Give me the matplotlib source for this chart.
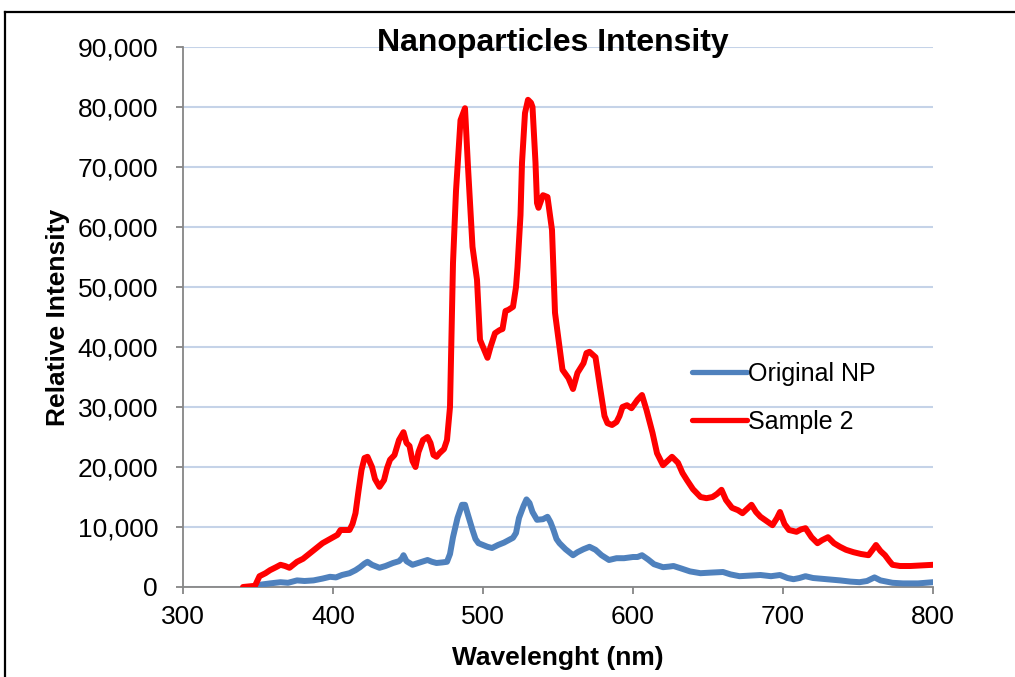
import matplotlib
matplotlib.use('Agg')
import matplotlib.pyplot as plt
from matplotlib.ticker import FuncFormatter, MultipleLocator
from matplotlib.lines import Line2D

plt.rcParams['font.family'] = ['Liberation Sans', 'DejaVu Sans']

# Sample 2 (red)
red_nm = [340, 348, 351, 355, 358, 362, 365, 368, 371, 374, 376, 380, 385, 389, 393, 398,
          403, 405, 411, 413, 415, 417, 419, 421, 423, 426, 428, 431, 434, 436, 438, 441,
          444, 447, 449, 451, 453, 455, 457, 460, 463, 465, 467, 469, 471, 474, 476, 478,
          480, 482, 485, 488, 490, 493, 495, 496, 498, 500, 503, 505, 508, 511, 513, 515,
          517, 520, 522, 523, 525, 526, 528, 530, 532, 533, 535, 536, 537, 540, 543, 546,
          548, 551, 553, 555, 557, 560, 563, 567, 569, 571, 575, 578, 581, 583, 586, 589,
          591, 593, 596, 599, 601, 603, 606, 609, 613, 616, 620, 623, 626, 630, 633, 636,
          640, 645, 649, 653, 656, 659, 662, 666, 670, 673, 676, 679, 682, 685, 689, 693,
          696, 698, 701, 704, 709, 712, 715, 719, 723, 726, 730, 734, 738, 742, 747, 752,
          757, 760, 762, 765, 768, 771, 773, 778, 785, 792, 800]
red_val = [0, 200, 1800, 2300, 2800, 3300, 3700, 3500, 3200, 3800, 4200, 4700, 5700, 6500, 7300, 8000,
           8700, 9500, 9500, 10500, 12300, 16000, 19500, 21500, 21700, 20000, 18000, 16700, 17800, 19800, 21200, 22000,
           24500, 25800, 24000, 23500, 21000, 20000, 22500, 24500, 25000, 24000, 22000, 21700, 22300, 23000, 24500, 30000,
           54000, 66000, 77800, 79800, 70000, 56700, 53000, 51200, 41200, 40000, 38200, 40000, 42300, 42800, 43000, 46000,
           46200, 46700, 50000, 53300, 62000, 70700, 79000, 81200, 80700, 80000, 70700, 64000, 63200, 65300, 65000, 59500,
           45700, 40000, 36200, 35500, 34800, 33000, 35700, 37300, 39000, 39200, 38300, 33300, 28500, 27300, 27000, 27500,
           28500, 30000, 30300, 29800, 30500, 31200, 32000, 29500, 25700, 22300, 20300, 21000, 21700, 20700, 19000, 17800,
           16300, 15000, 14800, 15000, 15500, 16200, 14500, 13200, 12800, 12300, 13000, 13700, 12500, 11700, 11000, 10300,
           11500, 12500, 10500, 9500, 9200, 9600, 9800, 8300, 7300, 7800, 8300, 7300, 6700, 6200, 5800, 5500,
           5300, 6300, 7000, 6000, 5300, 4300, 3700, 3500, 3500, 3600, 3700]

# Original NP (blue)
blue_nm = [350, 352, 358, 365, 370, 376, 381, 387, 393, 398, 402, 406, 411, 415, 418, 421,
           423, 426, 431, 435, 440, 444, 446, 447, 449, 453, 458, 463, 466, 469, 473, 476,
           478, 480, 483, 486, 488, 490, 493, 495, 497, 500, 503, 506, 510, 514, 517, 520,
           522, 524, 527, 529, 531, 533, 536, 540, 543, 545, 547, 549, 551, 555, 560, 563,
           567, 571, 575, 579, 584, 589, 594, 600, 603, 606, 610, 614, 620, 624, 627, 632,
           638, 645, 652, 660, 665, 671, 678, 685, 692, 698, 703, 707, 711, 715, 720, 729,
           738, 745, 751, 756, 761, 765, 773, 780, 790, 800]
blue_val = [0, 400, 600, 800, 700, 1100, 1000, 1100, 1400, 1700, 1600, 2000, 2300, 2800, 3300, 3900,
            4200, 3700, 3200, 3500, 4000, 4300, 4800, 5300, 4300, 3700, 4100, 4500, 4200, 4000, 4100, 4200,
            5500, 8300, 11500, 13700, 13700, 12000, 9500, 8000, 7300, 7000, 6700, 6500, 7000, 7400, 7800, 8200,
            9000, 11500, 13500, 14600, 14000, 12500, 11200, 11300, 11700, 10800, 9500, 8000, 7300, 6300, 5300, 5800,
            6300, 6700, 6200, 5300, 4500, 4800, 4800, 5000, 5000, 5300, 4600, 3800, 3300, 3400, 3500, 3100,
            2600, 2300, 2400, 2500, 2100, 1800, 1900, 2000, 1800, 2000, 1500, 1300, 1500, 1800, 1500, 1300,
            1100, 900, 800, 1000, 1600, 1100, 700, 600, 600, 800]

fig = plt.figure(figsize=(10.15, 6.77), dpi=100)
ax = fig.add_axes([183/1015, 1 - 587/677, 750/1015, 540/677])

ax.plot(blue_nm, blue_val, color='#4F81BD', lw=4.3, solid_capstyle='round',
        solid_joinstyle='round', label='Original NP', zorder=3)
ax.plot(red_nm, red_val, color='#FF0000', lw=4.3, solid_capstyle='round',
        solid_joinstyle='round', label='Sample 2', zorder=4)

ax.set_xlim(300, 800)
ax.set_ylim(0, 90000)
ax.xaxis.set_major_locator(MultipleLocator(100))
ax.yaxis.set_major_locator(MultipleLocator(10000))
ax.yaxis.set_major_formatter(FuncFormatter(lambda v, p: f'{int(v):,}'))

for s in ['top', 'right']:
    ax.spines[s].set_visible(False)
for s in ['left', 'bottom']:
    ax.spines[s].set_color('#868686')
    ax.spines[s].set_linewidth(1.3)
ax.tick_params(axis='both', direction='out', length=5, width=1.3, color='#868686',
               labelsize=19)
ax.tick_params(axis='y', pad=13)
ax.tick_params(axis='x', pad=8)
ax.yaxis.grid(True, color='#C5D3E8', lw=1.5, zorder=0)
ax.set_axisbelow(True)

ax.set_xlabel('Wavelenght (nm)', fontsize=19, fontweight='bold', labelpad=12)
ax.set_ylabel('Relative Intensity', fontsize=19, fontweight='bold', labelpad=5)

fig.text(553/1015, 1 - 43/677, 'Nanoparticles Intensity', fontsize=23, fontweight='bold',
         ha='center', va='center')

leg = ax.legend(loc='center left', bbox_to_anchor=(0.648, 0.35), frameon=False,
                fontsize=18, handlelength=2.2, handletextpad=0.05, labelspacing=0.95)
for h in leg.get_lines():
    h.set_linewidth(3.8)

# outer chart frame
fig.add_artist(Line2D([5/1015, 5/1015], [-0.05, 1 - 11.5/677], color='black', lw=1.6,
                      transform=fig.transFigure))
fig.add_artist(Line2D([5/1015, 1.05], [1 - 11.5/677, 1 - 11.5/677], color='black', lw=1.6,
                      transform=fig.transFigure))

fig.savefig('out.png', dpi=100)
